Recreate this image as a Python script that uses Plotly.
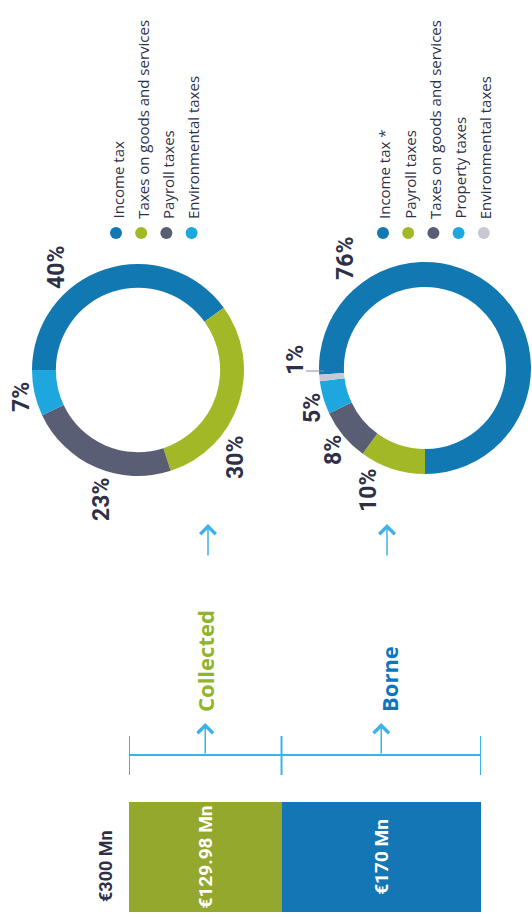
import plotly.graph_objects as go

W, H = 532, 917

# data
total_label = "€300 Mn"
bar_names = ["Collected", "Borne"]
bar_values = [129.98, 170]
bar_labels = ["€129.98 Mn", "€170 Mn"]
bar_total = 300

collected_cats = ["Income tax", "Taxes on goods and services", "Payroll taxes", "Environmental taxes"]
collected_vals = [40, 30, 23, 7]
borne_cats = ["Income tax *", "Payroll taxes", "Taxes on goods and services", "Property taxes", "Environmental taxes"]
borne_vals = [76, 10, 8, 5, 1]

# styles
BAR_COLORS = ["#93a82c", "#1476b4"]
C1_COLORS = ["#1178b2", "#a3b827", "#5a5e74", "#1ea7df"]
C2_COLORS = ["#1178b2", "#a3b827", "#5a5e74", "#1ea7df", "#c7c8d3"]
NAVY = "#2d3047"
LINE = "#3db2e6"
NUM_FONT = "Roboto, Liberation Sans, sans-serif"


def px(x):
    return x / W


def py(y):
    return 1 - y / H


fig = go.Figure()

# stacked bar
for name, v, lab, col in zip(bar_names, bar_values, bar_labels, BAR_COLORS):
    fig.add_trace(go.Bar(
        y=["total"], x=[v], orientation="h", name=name, width=1,
        marker=dict(color=col, line=dict(width=0)),
        text=[lab], textangle=-90, textposition="inside", insidetextanchor="middle",
        constraintext="none",
        textfont=dict(family=NUM_FONT, size=19, color="white", weight="bold"),
        hoverinfo="skip", showlegend=False,
    ))

# donuts
fig.add_trace(go.Pie(
    labels=collected_cats, values=collected_vals, hole=0.775, sort=False,
    direction="clockwise", rotation=270, marker=dict(colors=C1_COLORS, line=dict(width=0)),
    textinfo="none", hoverinfo="skip", showlegend=False,
    domain=dict(x=[px(32), px(244)], y=[py(476), py(264)]),
))
fig.add_trace(go.Pie(
    labels=borne_cats, values=borne_vals, hole=0.765, sort=False,
    direction="clockwise", rotation=180 - 360 * borne_vals[0] / sum(borne_vals),
    marker=dict(colors=C2_COLORS, line=dict(width=0)),
    textinfo="none", hoverinfo="skip", showlegend=False,
    domain=dict(x=[px(319), px(531)], y=[py(474), py(262)]),
))

ann = []
shapes = []


def label(x, y, text, font, yanchor="middle"):
    ann.append(dict(x=px(x), y=py(y), xref="paper", yref="paper", text=text,
                    textangle=-90, showarrow=False, xanchor="center", yanchor=yanchor,
                    font=font))


# total label
label(105, 866, total_label, dict(family=NUM_FONT, size=18, color=NAVY, weight="bold"))

# bracket above bar
ly = py(755)
shapes.append(dict(type="line", xref="x", yref="paper", x0=0, x1=bar_total, y0=ly, y1=ly,
                   line=dict(color=LINE, width=2)))
for xv in [0, bar_values[0], bar_total]:
    shapes.append(dict(type="line", xref="x", yref="paper", x0=xv, x1=xv,
                       y0=py(736), y1=py(775), line=dict(color=LINE, width=2)))
mids = [bar_values[0] / 2, bar_values[0] + bar_values[1] / 2]
for m in mids:
    ann.append(dict(x=m, y=py(723), xref="x", yref="paper", ax=0, ay=32, text="",
                    showarrow=True, arrowhead=4, arrowsize=2, arrowwidth=1.5, arrowcolor=LINE))

# Collected / Borne labels
lab_colors = ["#8fb52a", "#0b77bd"]
for name, xc, col in zip(bar_names, [205, 389], lab_colors):
    label(xc, 714, name, dict(family="Open Sans", size=22, color=col, weight="bold"), "bottom")
for xc in [208, 387]:
    ann.append(dict(x=px(xc), y=py(524), xref="paper", yref="paper", ax=0, ay=33, text="",
                    showarrow=True, arrowhead=4, arrowsize=2, arrowwidth=1.5, arrowcolor=LINE))

# percentage labels
PCT_FONT = dict(family=NUM_FONT, size=23, color=NAVY, weight="bold")
pos1 = [(56, 268), (235, 458), (101, 500), (21, 397)]
for v, (x, y) in zip(collected_vals, pos1):
    label(x, y, f"{v}%", PCT_FONT)
pos2 = [(345, 259), (368, 491), (333, 450), (312, 408), (295, 360)]
for v, (x, y) in zip(borne_vals, pos2):
    label(x, y, f"{v}%", PCT_FONT)
shapes.append(dict(type="line", xref="paper", yref="paper", x0=px(306), x1=px(324),
                   y0=py(371), y1=py(371), line=dict(color="#8a8da0", width=1)))


# legends (rotated)
def legend(cats, colors, x0):
    for i, (c, col) in enumerate(zip(cats, colors)):
        xc = x0 + i * 25.2
        shapes.append(dict(type="circle", xref="paper", yref="paper",
                           x0=px(xc - 6), x1=px(xc + 6), y0=py(239), y1=py(227),
                           fillcolor=col, line=dict(width=0)))
        label(xc + 1, 221, c, dict(family="Open Sans", size=15, color=NAVY), "bottom")


legend(collected_cats, C1_COLORS, 116)
legend(borne_cats, C2_COLORS, 383)

fig.update_layout(
    width=W, height=H, margin=dict(l=0, r=0, t=0, b=0),
    paper_bgcolor="white", plot_bgcolor="white", barmode="stack", bargap=0,
    xaxis=dict(domain=[px(129), px(481)], range=[0, bar_total], visible=False, fixedrange=True),
    yaxis=dict(domain=[py(912), py(802)], range=[-0.5, 0.5], visible=False, fixedrange=True),
    annotations=ann, shapes=shapes,
)

fig.write_html("out.html", config={"displayModeBar": False},
               post_script="document.body.style.margin='0px';")
